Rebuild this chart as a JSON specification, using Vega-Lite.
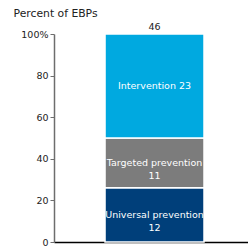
{
  "$schema": "https://vega.github.io/schema/vega-lite/v6.json",
  "width": 194,
  "height": 208,
  "autosize": {"type": "none"},
  "padding": {"left": 54, "top": 34, "right": 0, "bottom": 6},
  "background": "white",
  "config": {
    "view": {"stroke": null},
    "font": "DejaVu Sans",
    "text": {"font": "DejaVu Sans"}
  },
  "data": {
    "values": [
      {"group": "EBPs", "type": "Universal prevention", "count": 12, "order": 1, "label": ["Universal prevention", "12"]},
      {"group": "EBPs", "type": "Targeted prevention", "count": 11, "order": 2, "label": ["Targeted prevention", "11"]},
      {"group": "EBPs", "type": "Intervention", "count": 23, "order": 3, "label": ["Intervention 23"]}
    ]
  },
  "transform": [
    {"stack": "count", "groupby": ["group"], "sort": [{"field": "order", "order": "ascending"}], "offset": "normalize", "as": ["y0", "y1"]},
    {"calculate": "(datum.y0 + datum.y1) / 2", "as": "ymid"}
  ],
  "encoding": {
    "x": {
      "field": "group",
      "type": "nominal",
      "scale": {"paddingInner": 0, "paddingOuter": 0.48, "align": 0.537},
      "axis": {"labels": false, "ticks": false, "title": null, "domainColor": "#000000", "domainWidth": 1.5}
    }
  },
  "layer": [
    {
      "mark": {"type": "bar", "stroke": "white", "strokeWidth": 1.5},
      "encoding": {
        "y": {
          "field": "y0",
          "type": "quantitative",
          "scale": {"domain": [0, 1], "nice": false},
          "axis": {
            "values": [0, 0.2, 0.4, 0.6, 0.8, 1],
            "labelExpr": "datum.value == 1 ? '100%' : format(datum.value * 100, 'd')",
            "grid": false,
            "domainColor": "#6d6d6d",
            "domainWidth": 1.5,
            "tickColor": "#6d6d6d",
            "tickSize": 4,
            "labelPadding": 2,
            "labelFontSize": 9.5,
            "labelColor": "#222222",
            "labelFont": "DejaVu Sans",
            "title": "Percent of EBPs",
            "titleAngle": 0,
            "titleX": -41,
            "titleY": -21,
            "titleAlign": "left",
            "titleBaseline": "middle",
            "titleFontWeight": "normal",
            "titleFontSize": 10.8,
            "titleColor": "#222222",
            "titleFont": "DejaVu Sans"
          }
        },
        "y2": {"field": "y1"},
        "color": {
          "field": "type",
          "type": "nominal",
          "scale": {
            "domain": ["Universal prevention", "Targeted prevention", "Intervention"],
            "range": ["#003f7a", "#7c7c7c", "#00a9e0"]
          },
          "legend": null
        }
      }
    },
    {
      "mark": {"type": "text", "color": "white", "fontSize": 9.5, "lineHeight": 13, "baseline": "middle", "align": "center"},
      "encoding": {
        "y": {"field": "ymid", "type": "quantitative"},
        "text": {"field": "label"}
      }
    },
    {
      "transform": [
        {"aggregate": [{"op": "sum", "field": "count", "as": "total"}], "groupby": ["group"]}
      ],
      "mark": {"type": "text", "color": "#222222", "fontSize": 9.5, "baseline": "middle", "dy": -7},
      "encoding": {
        "y": {"datum": 1, "type": "quantitative"},
        "text": {"field": "total", "type": "quantitative"}
      }
    }
  ]
}
